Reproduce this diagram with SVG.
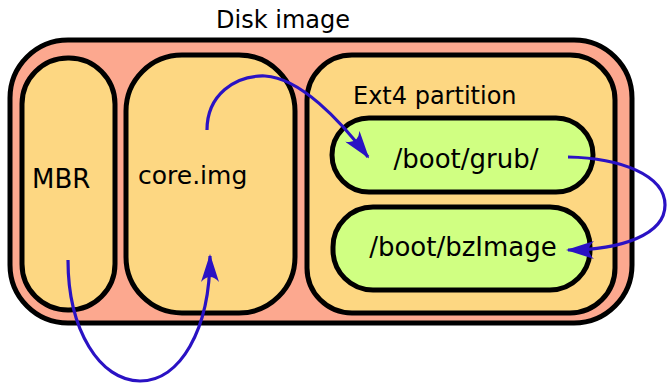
<svg xmlns="http://www.w3.org/2000/svg" width="667" height="384" viewBox="0 0 667 384">
<style>
.box{stroke:#000;stroke-width:5}
.outer{fill:#fca88f}
.org{fill:#fdd782}
.grn{fill:#d0ff82}
text{font-family:"DejaVu Sans","Liberation Sans",sans-serif;font-size:24px;fill:#000}
.big{font-size:26px}
.arr{fill:none;stroke:#2a12c4;stroke-width:3.2;marker-end:url(#ah)}
</style>
<defs>
<marker id="ah" viewBox="0 0 28 18" refX="26" refY="9" markerWidth="28" markerHeight="18" markerUnits="userSpaceOnUse" orient="auto">
<path d="M0,0 Q10,9 0,18 L28,9 Z" fill="#2a12c4"/>
</marker>
</defs>
<g id="disk">
<rect class="box outer" x="10" y="40" width="622" height="283" rx="58"/>
<text x="283" y="28" text-anchor="middle">Disk image</text>
</g>
<g id="mbr">
<rect class="box org" x="22" y="58" width="93" height="252" rx="46"/>
<text x="32" y="188" style="font-size:26px">MBR</text>
</g>
<g id="core">
<rect class="box org" x="126" y="55" width="169" height="258" rx="56"/>
<text x="138" y="184" style="font-size:25px">core.img</text>
</g>
<g id="ext4">
<rect class="box org" x="307" y="55" width="308" height="258" rx="45"/>
<text x="353" y="104">Ext4 partition</text>
</g>
<g id="grub">
<rect class="box grn" x="332" y="118" width="261" height="74" rx="37"/>
<text class="big" x="466" y="168" text-anchor="middle">/boot/grub/</text>
</g>
<g id="bz">
<rect class="box grn" x="333" y="207" width="257" height="83" rx="40"/>
<text class="big" x="463" y="256" text-anchor="middle">/boot/bzImage</text>
</g>
<g id="connectors">
<path class="arr" d="M68 260 C68 330 100 381 140 381 C180 381 210 330 210 256"/>
<path class="arr" d="M207 130 C207 95 235 75 265 76 C300 78 340 120 368 157"/>
<path class="arr" d="M568 157 C620 158 665 175 665 205 C665 235 620 250 568 250"/>
</g>
</svg>
